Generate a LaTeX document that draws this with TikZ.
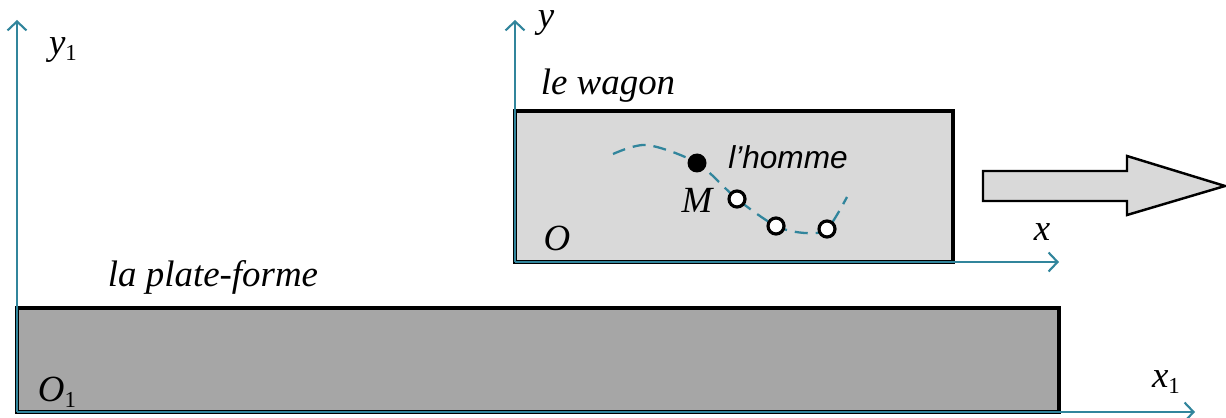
\documentclass[tikz,border=0pt]{standalone}
\usepackage{fontspec}
\setmainfont{Liberation Serif}
\newfontfamily\homfont{Liberation Sans}
\usetikzlibrary{arrows.meta,positioning}
\definecolor{axe}{RGB}{49,133,156}
\tikzset{
  axis/.style={draw=axe,line width=1.2pt,-{Straight Barb[length=1.8mm,width=3.8mm,line width=1.2pt]}},
  lbl/.style={font=\fontsize{21}{25}\selectfont\itshape,inner sep=0pt},
  position/.style={circle,draw,line width=1.8pt,fill=white,minimum size=3.2mm,inner sep=0pt}
}
\newcommand{\ind}[1]{\raisebox{-0.35ex}{\upshape\fontsize{13}{15}\selectfont #1}}

\begin{document}
\begin{tikzpicture}[x=0.02cm,y=-0.02cm]
\useasboundingbox (0,0) rectangle (1226,418);
% plate-forme et wagon
\draw[fill=black!35,line width=1.8pt] (17,308) rectangle (1059,412);
\draw[fill=black!15,line width=1.8pt] (515,111) rectangle (953,262);
% fleche du mouvement
\draw[fill=black!15,line width=1.4pt] (983,171) -- (1127,171) -- (1127,156) -- (1225,186)
  -- (1127,215) -- (1127,201) -- (983,201) -- cycle;
% reperes
\coordinate (O1) at (17,412);
\coordinate (y1end) at (17,20);
\coordinate (x1end) at (1195,412);
\coordinate (O) at (515,262);
\coordinate (yend) at (515,20);
\coordinate (xend) at (1059,262);
\draw[axis] (O1) -- (y1end);
\draw[axis] (O1) -- (x1end);
\draw[axis] (O) -- (yend);
\draw[axis] (O) -- (xend);
% trajectoire de l'homme
\draw[axe,line width=1.3pt,dash pattern=on 2.6mm off 1.6mm] plot[smooth] coordinates
  {(613,154) (647,145) (697,163) (737,199) (776,226) (805,233) (827,229) (847,197)};
\node[circle,fill=black,minimum size=3.8mm,inner sep=0pt] (M) at (697,163) {};
\node[position] (p1) at (737,199) {};
\node[position] (p2) at (776,226) {};
\node[position] (p3) at (827,229) {};
% textes
\node[lbl] (ly1) at (63,50) {y\ind{1}};
\node[lbl] (ly) at (546,23) {y};
\node[lbl] (lx) at (1042,232) {x};
\node[lbl] (lx1) at (1166,382) {x\ind{1}};
\node[lbl] (lO1) at (57,392) {O\ind{1}};
\node[lbl] (lO) at (557,238) {O};
\node[lbl] (lM) at (697,200) {M};
\node[lbl] (lwagon) at (608,86) {le wagon};
\node[lbl] (lplate) at (213,277) {la plate-forme};
\node[font=\homfont\itshape\fontsize{18}{22}\selectfont,inner sep=0pt] (lhomme) at (788,157) {l’homme};
\end{tikzpicture}
\end{document}
